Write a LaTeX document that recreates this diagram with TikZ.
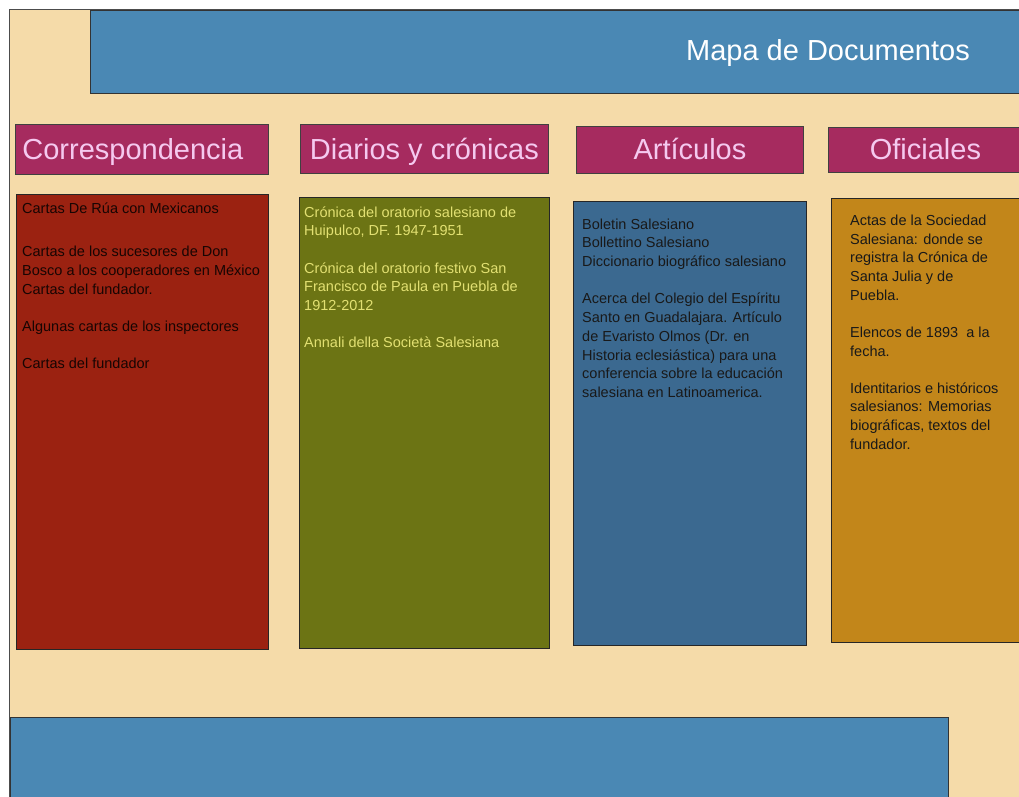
\documentclass[tikz,border=0pt]{standalone}
\usepackage{fontspec}
\setmainfont{Liberation Sans}
\usetikzlibrary{positioning}

\definecolor{beige}{HTML}{F5DBA9}
\definecolor{barblue}{HTML}{4A88B4}
\definecolor{titlemag}{HTML}{A62B5F}
\definecolor{titletxt}{HTML}{F5C9EF}
\definecolor{corrred}{HTML}{9B2211}
\definecolor{diarolive}{HTML}{6C7414}
\definecolor{diartxt}{HTML}{E2E072}
\definecolor{artblue}{HTML}{3B6990}
\definecolor{ofiorange}{HTML}{C2861A}

\begin{document}
\begin{tikzpicture}[
        x=1pt, y=-1pt,
        bar/.style={draw=black!80, line width=1.2pt, fill=barblue, anchor=north west, inner sep=0pt},
        ttl/.style={draw=black!75, line width=0.8pt, fill=titlemag, text=titletxt, anchor=north west,
            inner sep=0pt, text height=25pt, text depth=5pt, font=\fontsize{29}{34}\selectfont},
        cbox/.style={draw=black!85, line width=0.8pt, anchor=north west, inner sep=0pt},
        txt/.style={anchor=north west, inner sep=0pt, align=left, font=\fontsize{14.5}{18.7}\selectfont}
    ]
        \useasboundingbox (0,0) rectangle (1019,796);
        \draw[fill=beige, draw=black!70, line width=0.8pt] (9,9) rectangle (1030,805);

        % header and footer bars
        \node[bar, minimum width=940pt, minimum height=83pt] (head) at (90,10) {};
        \node[text=white, font=\fontsize{29}{34}\selectfont] (headtxt) at (828,53) {Mapa de Documentos};
        \node[bar, minimum width=938pt, minimum height=90pt] (foot) at (10,717) {};

        % column titles
        \node[ttl, minimum width=253pt, minimum height=50pt, text width=239pt, align=left] (corr) at (15,124) {Correspondencia};
        \node[ttl, minimum width=248pt, minimum height=49pt, text depth=3pt] (diar) at (300,124) {Diarios y crónicas};
        \node[ttl, minimum width=227pt, minimum height=47pt] (arti) at (576,126) {Artículos};
        \node[ttl, minimum width=194pt, minimum height=45pt] (ofic) at (828,127) {Oficiales};

        % column boxes
        \node[cbox, fill=corrred,   minimum width=252pt, minimum height=455pt] (corrbox) at (16,194)  {};
        \node[cbox, fill=diarolive, minimum width=250pt, minimum height=451pt] (diarbox) at (299,197) {};
        \node[cbox, fill=artblue,   minimum width=233pt, minimum height=444pt] (artibox) at (573,201) {};
        \node[cbox, fill=ofiorange, minimum width=192pt, minimum height=444pt] (oficbox) at (831,198) {};

        \node[txt, text=black!85!corrred] (corrtxt) at ([xshift=6pt, yshift=-6pt]corrbox.north west)
            {\strut Cartas De Rúa con Mexicanos\\[25pt]
             Cartas de los sucesores de Don\\
             Bosco a los cooperadores en México\\
             Cartas del fundador.\\[18.5pt]
             Algunas cartas de los inspectores\\[18.5pt]
             Cartas del fundador};
        \node[txt, text=diartxt] (diartxt) at ([xshift=5pt, yshift=-7pt]diarbox.north west)
            {\strut Crónica del oratorio salesiano de\\
             Huipulco, DF. 1947-1951\\[18.5pt]
             Crónica del oratorio festivo San\\
             Francisco de Paula en Puebla de\\
             1912-2012\\[18.5pt]
             Annali della Società Salesiana};
        \node[txt, text=black!90] (artitxt) at ([xshift=9pt, yshift=-15pt]artibox.north west)
            {\strut Boletin Salesiano\\
             Bollettino Salesiano\\
             Diccionario biográfico salesiano\\[18.5pt]
             Acerca del Colegio del Espíritu\\
             Santo en Guadalajara. Artículo\\
             de Evaristo Olmos (Dr. en\\
             Historia eclesiástica) para una\\
             conferencia sobre la educación\\
             salesiana en Latinoamerica.};
        \node[txt, text=black!90] (ofictxt) at ([xshift=19pt, yshift=-14pt]oficbox.north west)
            {\strut Actas de la Sociedad\\
             Salesiana: donde se\\
             registra la Crónica de\\
             Santa Julia y de\\
             Puebla.\\[18.5pt]
             Elencos de 1893~ a la\\
             fecha.\\[18.5pt]
             Identitarios e históricos\\
             salesianos: Memorias\\
             biográficas, textos del\\
             fundador.};
    \end{tikzpicture}
\end{document}
